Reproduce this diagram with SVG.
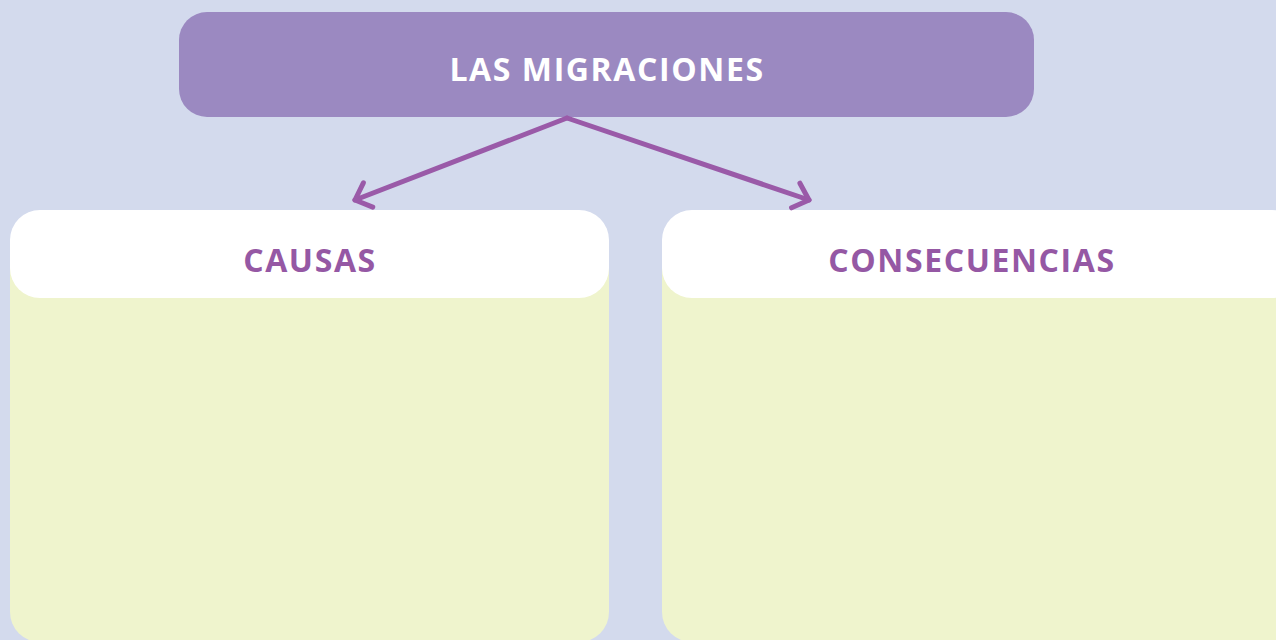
<svg xmlns="http://www.w3.org/2000/svg" width="1276" height="640" viewBox="0 0 1276 640">
<defs>
<style>
.title{font-family:"Open Sans","Liberation Sans",sans-serif;font-weight:700;text-anchor:middle;font-size:32px;letter-spacing:1.6px}
.hdr{fill:#ffffff}
.body{fill:#eff4cd}
.conn{stroke:#9a5aa8;stroke-width:5;fill:none;stroke-linecap:round;stroke-linejoin:round}
</style>
<marker id="arrow" markerUnits="userSpaceOnUse" viewBox="-20 -20 40 40" markerWidth="40" markerHeight="40" refX="0" refY="0" orient="auto">
<path d="M -14,-13 L 0,0 L -14,13" fill="none" stroke="#9a5aa8" stroke-width="5" stroke-linecap="round" stroke-linejoin="round"/>
</marker>
</defs>
<rect x="0" y="0" width="1276" height="640" fill="#d3daed"/>
<g id="node-migraciones">
<rect x="179" y="12" width="855" height="105" rx="28" ry="28" fill="#9b89c1"/>
<text class="title" x="607" y="81" fill="#ffffff">LAS MIGRACIONES</text>
</g>
<g id="node-causas">
<rect class="body" x="10" y="230" width="599" height="412" rx="30" ry="30"/>
<rect class="hdr" x="10" y="210" width="599" height="88" rx="30" ry="30"/>
<text class="title" x="310" y="272" fill="#9558a4">CAUSAS</text>
</g>
<g id="node-consecuencias">
<rect class="body" x="662" y="230" width="640" height="412" rx="30" ry="30"/>
<rect class="hdr" x="662" y="210" width="640" height="88" rx="30" ry="30"/>
<text class="title" x="972" y="272" fill="#9558a4">CONSECUENCIAS</text>
</g>
<g id="connectors">
<path class="conn" d="M 567,118 L 355,200" marker-end="url(#arrow)"/>
<path class="conn" d="M 567,118 L 809,200" marker-end="url(#arrow)"/>
</g>
</svg>
